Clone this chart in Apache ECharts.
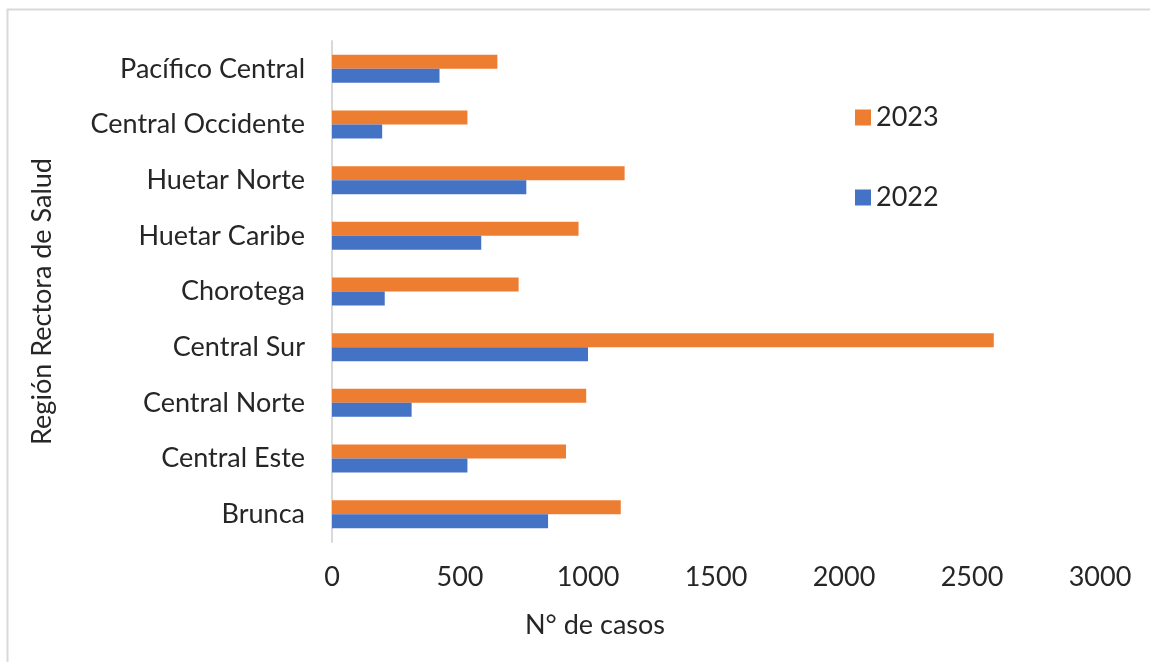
<!DOCTYPE html>
<html>
<head>
<meta charset="utf-8">
<script src="https://cdn.jsdelivr.net/npm/echarts@6/dist/echarts.min.js"></script>
<style>html,body{margin:0;padding:0;background:#fff;}#chart{width:1150px;height:662px;}</style>
</head>
<body>
<div id="chart"></div>
<script>
// Categories listed bottom-to-top (ECharts category y-axis starts at bottom)
const categories = ['Brunca','Central Este','Central Norte','Central Sur','Chorotega','Huetar Caribe','Huetar Norte','Central Occidente','Pacífico Central'];
const values2023 = [1128, 914, 993, 2585, 729, 963, 1143, 529, 646];
const values2022 = [844, 529, 311, 1000, 206, 583, 759, 196, 420];
const xTicks = [0, 500, 1000, 1500, 2000, 2500, 3000];

const FONT = 'Lato, "Open Sans", sans-serif';
const TEXT = '#262626';
const FS = 27;

const chart = echarts.init(document.getElementById('chart'));
chart.setOption({
  animation: false,
  backgroundColor: '#fff',
  graphic: [{
    type: 'rect', left: 5, top: 7,
    shape: { width: 1200, height: 700 },
    style: { fill: 'none', stroke: '#d9d9d9', lineWidth: 2 }, silent: true
  }],
  grid: { left: 332, right: 50, top: 41, bottom: 120, containLabel: false },
  legend: {
    orient: 'vertical', left: 850, top: 99, itemGap: 53,
    itemWidth: 16, itemHeight: 16, icon: 'rect',
    textStyle: { fontFamily: FONT, fontSize: FS, color: TEXT, padding: [0,0,0,0] },
    data: ['2023', '2022']
  },
  xAxis: {
    type: 'value', min: xTicks[0], max: xTicks[xTicks.length-1], interval: 500,
    axisLine: { show: false }, axisTick: { show: false }, splitLine: { show: false },
    axisLabel: { fontFamily: FONT, fontSize: FS, color: TEXT, margin: 22,
      formatter: function (v) { return String(v); } },
    name: 'N° de casos', nameLocation: 'middle', nameGap: 70,
    nameTextStyle: { fontFamily: FONT, fontSize: FS, color: TEXT, padding: [0, 242, 0, 0] }
  },
  yAxis: {
    type: 'category', data: categories,
    axisLine: { show: true, lineStyle: { color: '#d9d9d9', width: 2 } },
    axisTick: { show: false },
    axisLabel: { fontFamily: FONT, fontSize: FS, color: TEXT, margin: 27 },
    name: 'Región Rectora de Salud', nameLocation: 'middle', nameGap: 276, nameRotate: 90,
    nameTextStyle: { fontFamily: FONT, fontSize: FS, color: TEXT, padding: [0, 20, 0, 0] }
  },
  series: [
    { name: '2023', type: 'bar', data: values2023, barWidth: 14, barGap: '0%',
      itemStyle: { color: '#ED7D31' } },
    { name: '2022', type: 'bar', data: values2022, barWidth: 14, barGap: '0%',
      itemStyle: { color: '#4472C4' } }
  ]
});
</script>
</body>
</html>
